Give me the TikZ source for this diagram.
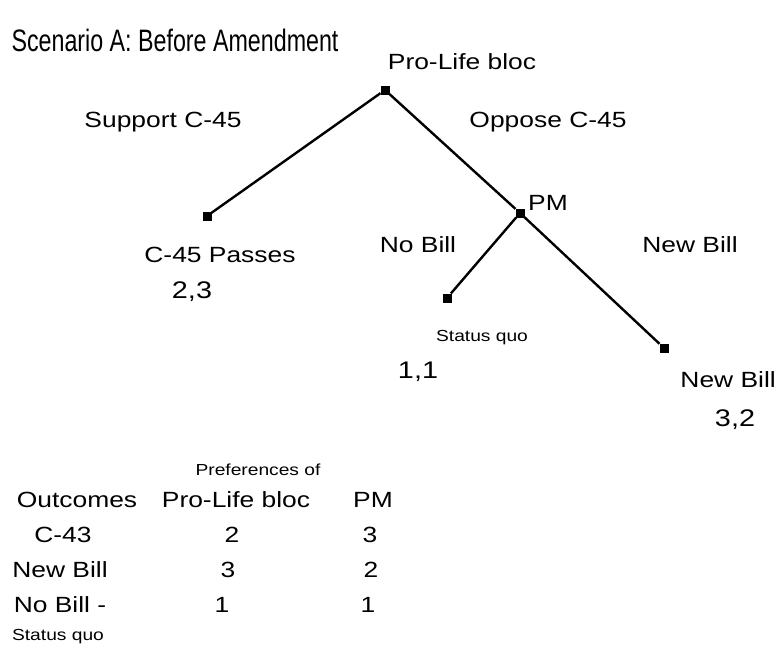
\documentclass[tikz,border=0pt]{standalone}
\usepackage{fontspec}
\setmainfont{Liberation Sans}
\newfontfamily\widefont[FakeStretch=1.2]{Liberation Sans}
\newfontfamily\tallfont[FakeStretch=0.75]{Liberation Sans}
\begin{document}
\begin{tikzpicture}[x=1pt,y=-1pt,
  lbl/.style={font=\widefont\fontsize{22}{24}\selectfont, inner sep=1pt},
  small/.style={font=\widefont\fontsize{16}{18}\selectfont, inner sep=1pt},
  dotnode/.style={fill=black, minimum size=9pt, inner sep=0pt, outer sep=0pt},
  branch/.style={line width=2.4pt, black}]
\useasboundingbox[fill=white] (0,0) rectangle (778,662);

% title
\node[font=\tallfont\fontsize{31}{33}\selectfont, anchor=west] (title) at (8,40) {Scenario A: Before Amendment};

% decision nodes and leaves
\node[dotnode] (root) at (385,90) {};
\node[dotnode] (pm) at (520,213) {};
\node[dotnode] (passes) at (207,216) {};
\node[dotnode] (sq) at (447,298) {};
\node[dotnode] (nb) at (664,348) {};

\draw[branch] (root) -- (passes);
\draw[branch] (root) -- (pm);
\draw[branch] (pm) -- (sq);
\draw[branch] (pm) -- (nb);

% player and move labels
\node[lbl] (rootlbl) at (462,62) {Pro-Life bloc};
\node[lbl] (pmlbl) at (548,203) {PM};
\node[lbl] (supp) at (163,122) {Support C-45};
\node[lbl] (opp) at (548,122) {Oppose C-45};
\node[lbl] (nobill) at (418,245) {No Bill};
\node[lbl] (newbill) at (690,245) {New Bill};

% outcomes and payoffs
\node[lbl] (passeslbl) at (220,255) {C-45 Passes};
\node[lbl, font=\widefont\fontsize{24}{26}\selectfont] (passespay) at (192,292) {2,3};
\node[small] (sqlbl) at (482,338) {Status quo};
\node[lbl, font=\widefont\fontsize{24}{26}\selectfont] (sqpay) at (418,372) {1,1};
\node[lbl, anchor=east] (nblbl) at (777,380) {New Bill};
\node[lbl, font=\widefont\fontsize{24}{26}\selectfont] (nbpay) at (735,420) {3,2};

% preference table
\node[small] (prefs) at (258,470) {Preferences of};
\node[lbl] (hout) at (77,500) {Outcomes};
\node[lbl] (hpl) at (236,500) {Pro-Life bloc};
\node[lbl] (hpm) at (373,500) {PM};
\node[lbl] (r1) at (63,535) {C-43};
\node[lbl] (r1a) at (232,535) {2};
\node[lbl] (r1b) at (370,535) {3};
\node[lbl] (r2) at (60,570) {New Bill};
\node[lbl] (r2a) at (228,570) {3};
\node[lbl] (r2b) at (371,570) {2};
\node[lbl] (r3) at (60,605) {No Bill -};
\node[lbl] (r3a) at (222,605) {1};
\node[lbl] (r3b) at (368,605) {1};
\node[small] (r3c) at (58,637) {Status quo};
\end{tikzpicture}
\end{document}
